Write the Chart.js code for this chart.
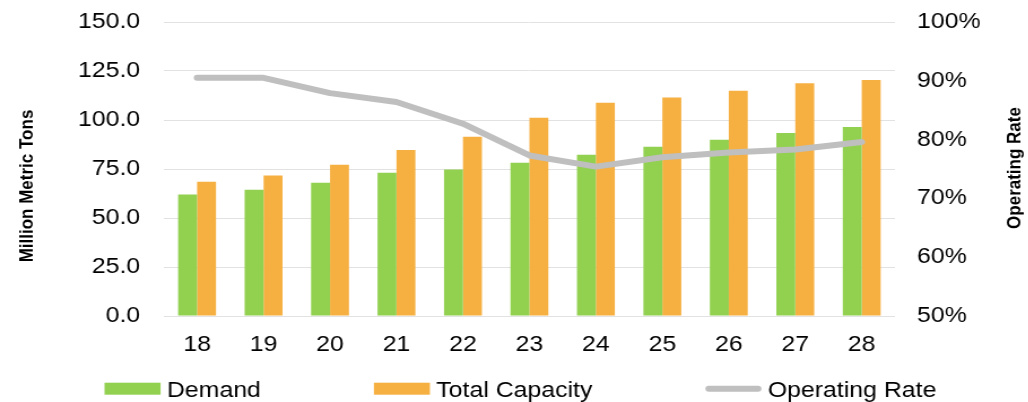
<!DOCTYPE html>
<html>
<head>
<meta charset="utf-8">
<script src="https://cdn.jsdelivr.net/npm/chart.js@4"></script>
<style>
  html, body { margin: 0; padding: 0; background: #fff; overflow: hidden; }
  #wrap { position: absolute; left: 0; top: 0; width: 910px; height: 402px;
          transform: scaleX(1.13); transform-origin: 0 0; }
</style>
</head>
<body>
<div id="wrap"><canvas id="chart"></canvas></div>
<script>
// Years (20xx) along the bottom axis
const categories = ['18', '19', '20', '21', '22', '23', '24', '25', '26', '27', '28'];
// Million metric tons
const demand   = [62.0, 64.4, 68.0, 73.1, 74.8, 78.2, 82.3, 86.4, 89.9, 93.4, 96.4];
const capacity = [68.5, 71.7, 77.2, 84.7, 91.5, 101.2, 108.8, 111.5, 114.9, 118.7, 120.4];
// Operating rate, percent
const operatingRate = [90.5, 90.5, 87.9, 86.4, 82.7, 77.3, 75.4, 77.0, 77.8, 78.3, 79.6];

const seriesNames = ['Demand', 'Total Capacity', 'Operating Rate'];
const leftTitle = 'Million Metric Tons';
const rightTitle = 'Operating Rate';

const FONT = 'Liberation Sans, Arial, sans-serif';

// Rotated axis titles
const axisTitles = {
  id: 'axisTitles',
  afterDraw(chart) {
    const ctx = chart.ctx;
    const draw = (text, x, y) => {
      ctx.save();
      ctx.fillStyle = '#000';
      ctx.font = 'bold 17px ' + FONT;
      ctx.textAlign = 'center';
      ctx.textBaseline = 'middle';
      ctx.translate(x, y);
      ctx.rotate(-Math.PI / 2);
      ctx.fillText(text, 0, 0);
      ctx.restore();
    };
    draw(leftTitle, 24, 186);
    draw(rightTitle, 898, 168);
  }
};

// Legend row under the axis, built from the datasets
const bottomLegend = {
  id: 'bottomLegend',
  afterDraw(chart) {
    const ctx = chart.ctx;
    const boxW = 49.6, boxH = 12, textGap = 5.6, itemGap = 100;
    const yMid = 388.7, baseline = 396.5;
    let x = 92.5;
    ctx.save();
    ctx.font = '22px ' + FONT;
    ctx.textBaseline = 'alphabetic';
    ctx.textAlign = 'left';
    chart.data.datasets.forEach(ds => {
      if (ds.type === 'line') {
        ctx.strokeStyle = ds.borderColor;
        ctx.lineWidth = ds.borderWidth;
        ctx.lineCap = 'round';
        ctx.beginPath();
        ctx.moveTo(x + 3, yMid);
        ctx.lineTo(x + boxW - 3, yMid);
        ctx.stroke();
      } else {
        ctx.fillStyle = ds.backgroundColor;
        ctx.fillRect(x, yMid - boxH / 2, boxW, boxH);
      }
      x += boxW + textGap;
      ctx.fillStyle = '#000';
      ctx.fillText(ds.label, x, baseline);
      x += ctx.measureText(ds.label).width + itemGap;
    });
    ctx.restore();
  }
};

// Fixed side-axis widths; no extra head room for the end labels
const fitSide = width => s => {
  s.width = width;
  s.paddingTop = 0;
  s.paddingBottom = 0;
};

new Chart(document.getElementById('chart'), {
  type: 'bar',
  data: {
    labels: categories,
    datasets: [
      {
        label: seriesNames[0],
        data: demand,
        backgroundColor: '#92D050',
        borderWidth: 0,
        yAxisID: 'y',
        order: 1,
        categoryPercentage: 0.57,
        barPercentage: 1.0
      },
      {
        label: seriesNames[1],
        data: capacity,
        backgroundColor: '#F6B042',
        borderWidth: 0,
        yAxisID: 'y',
        order: 1,
        categoryPercentage: 0.57,
        barPercentage: 1.0
      },
      {
        type: 'line',
        label: seriesNames[2],
        data: operatingRate,
        borderColor: '#BFBFBF',
        backgroundColor: '#BFBFBF',
        borderWidth: 6,
        borderCapStyle: 'round',
        borderJoinStyle: 'round',
        pointRadius: 0,
        tension: 0,
        yAxisID: 'y1',
        order: 0
      }
    ]
  },
  options: {
    responsive: true,
    maintainAspectRatio: false,
    animation: false,
    layout: { padding: { top: 22, bottom: 46, left: 40, right: 26 } },
    plugins: {
      legend: { display: false },
      tooltip: { enabled: false }
    },
    scales: {
      x: {
        afterFit: s => { s.height = 40; },
        grid: { display: false },
        border: { display: false },
        ticks: { color: '#000', font: { family: FONT, size: 22 }, padding: 7.5, maxRotation: 0 }
      },
      y: {
        position: 'left',
        min: 0,
        max: 150,
        afterFit: fitSide(105),
        grid: { color: '#E2E2E2', lineWidth: 1, drawTicks: false },
        border: { display: false },
        ticks: {
          stepSize: 25,
          padding: 21,
          color: '#000',
          font: { family: FONT, size: 22 },
          callback: v => v.toFixed(1)
        }
      },
      y1: {
        position: 'right',
        min: 50,
        max: 100,
        afterFit: fitSide(92),
        grid: { display: false, drawTicks: false },
        border: { display: false },
        ticks: {
          stepSize: 10,
          padding: 19.5,
          color: '#000',
          font: { family: FONT, size: 22 },
          callback: v => v + '%'
        }
      }
    }
  },
  plugins: [axisTitles, bottomLegend]
});
</script>
</body>
</html>
